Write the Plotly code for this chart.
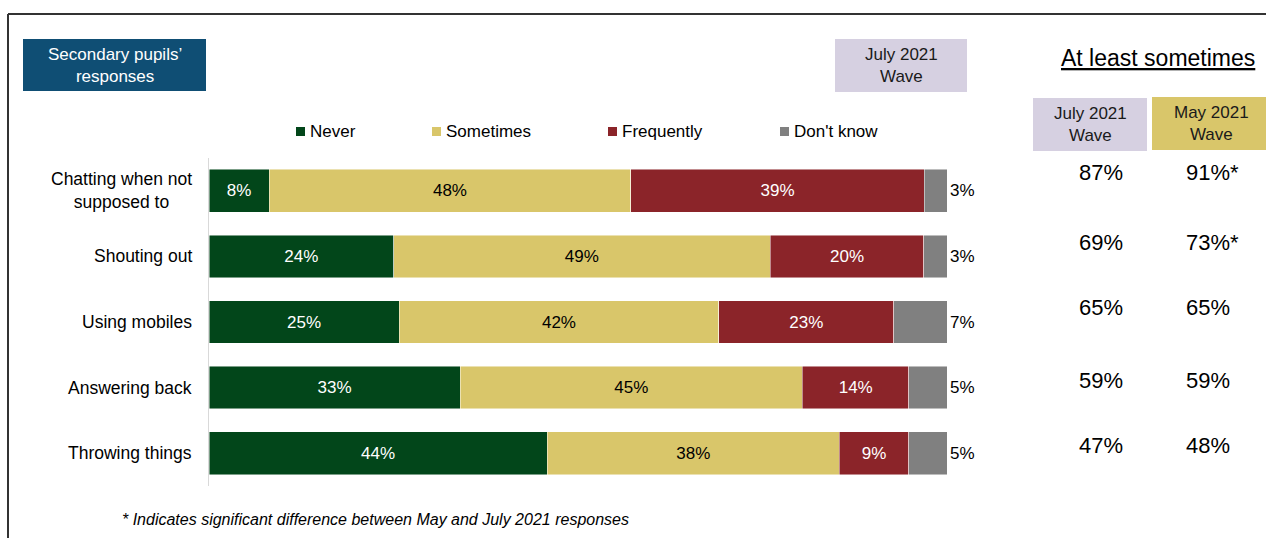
import plotly.graph_objects as go

# ---------------- data ----------------
categories = ["Chatting when not<br>supposed to", "Shouting out", "Using mobiles",
              "Answering back", "Throwing things"]
series_names = ["Never", "Sometimes", "Frequently", "Don't know"]
never = [8, 24, 25, 33, 44]
sometimes = [48, 49, 42, 45, 38]
frequently = [39, 20, 23, 14, 9]
dont_know = [3, 3, 7, 5, 5]
july_at_least = ["87%", "69%", "65%", "59%", "47%"]
may_at_least = ["91%*", "73%*", "65%", "59%", "48%"]

# ---------------- style ----------------
colors = ["#02461A", "#D9C66A", "#8B2429", "#808080"]
text_colors = ["white", "black", "white", "black"]
FONT = "Liberation Sans, Arial, sans-serif"
W, H = 1266, 538
ML, MR, MT, MB = 209, 319, 158, 52
PW, PH = W - ML - MR, H - MT - MB


def px2x(px):
    return (px - ML) / PW


def px2y(py):
    return (H - MB - py) / PH


fig = go.Figure()
all_vals = [never, sometimes, frequently, dont_know]
for i, (name, vals) in enumerate(zip(series_names, all_vals)):
    last = i == len(series_names) - 1
    fig.add_trace(go.Bar(
        y=categories, x=vals, name=name, orientation="h",
        marker=dict(color=colors[i], line=dict(color="rgba(255,255,255,0.6)", width=0.8)),
        text=[f"{v}%" for v in vals],
        textposition="outside" if last else "inside",
        insidetextanchor="middle",
        textangle=0,
        constraintext="none",
        textfont=dict(family=FONT, size=17, color=text_colors[i]),
        cliponaxis=False,
        showlegend=False,
        hoverinfo="skip",
    ))

fig.update_layout(
    width=W, height=H,
    margin=dict(l=ML, r=MR, t=MT, b=MB),
    paper_bgcolor="white", plot_bgcolor="white",
    barmode="stack", barnorm="percent", bargap=0.35,
    font=dict(family=FONT, size=17, color="black"),
    xaxis=dict(range=[0, 100], visible=False, fixedrange=True),
    yaxis=dict(autorange="reversed", showticklabels=False, showgrid=False,
               showline=True, linecolor="#D9D9D9", linewidth=1, ticks="",
               zeroline=False),
)

shapes = []
annotations = []

# category labels (centred multi-line, right edge near axis)
for cat in categories:
    annotations.append(dict(x=0, y=cat, xref="paper", yref="y", text=cat,
                            xanchor="right", yanchor="middle", xshift=-15,
                            align="center", showarrow=False,
                            font=dict(family=FONT, size=17.5, color="black")))

# legend (manual, squares + text)
legend_sq_px = [296, 432, 608, 780]
for name, col, sx in zip(series_names, colors, legend_sq_px):
    shapes.append(dict(type="rect", xref="paper", yref="paper",
                       x0=px2x(sx), x1=px2x(sx + 9), y0=px2y(136), y1=px2y(127),
                       fillcolor=col, line=dict(width=0)))
    annotations.append(dict(x=px2x(sx + 12), y=px2y(131), xref="paper", yref="paper",
                            text=name, xanchor="left", yanchor="middle", showarrow=False,
                            font=dict(family=FONT, size=17, color="black")))

# header boxes
def box(x0, x1, y0, y1, fill, text, color):
    shapes.append(dict(type="rect", xref="paper", yref="paper",
                       x0=px2x(x0), x1=px2x(x1), y0=px2y(y1), y1=px2y(y0),
                       fillcolor=fill, line=dict(width=0), layer="below"))
    annotations.append(dict(x=px2x((x0 + x1) / 2), y=px2y((y0 + y1) / 2),
                            xref="paper", yref="paper", text=text,
                            xanchor="center", yanchor="middle", showarrow=False,
                            align="center",
                            font=dict(family=FONT, size=17, color=color)))


box(23, 206, 39, 91, "#0F4E74", "Secondary pupils’<br>responses", "white")
box(835, 967, 39, 92, "#D6D0E1", "July 2021<br>Wave", "#1a1a1a")
box(1033, 1147, 98, 151, "#D6D0E1", "July 2021<br>Wave", "#1a1a1a")
box(1152, 1270, 97, 150, "#D9C66A", "May 2021<br>Wave", "#1a1a1a")

# "At least sometimes" heading
annotations.append(dict(x=px2x(1158), y=px2y(58), xref="paper", yref="paper",
                        text="<u>At least sometimes</u>", xanchor="center", yanchor="middle",
                        showarrow=False, font=dict(family=FONT, size=23, color="black")))

# table values
table_yshift = [18, 14, 15, 7, 8]
for cat, jv, mv, ys in zip(categories, july_at_least, may_at_least, table_yshift):
    annotations.append(dict(x=px2x(1077), y=cat, xref="paper", yref="y", text=jv,
                            xanchor="left", yanchor="middle", yshift=ys, showarrow=False,
                            font=dict(family=FONT, size=22, color="black")))
    annotations.append(dict(x=px2x(1184), y=cat, xref="paper", yref="y", text=mv,
                            xanchor="left", yanchor="middle", yshift=ys, showarrow=False,
                            font=dict(family=FONT, size=22, color="black")))

# footnote
annotations.append(dict(x=px2x(120), y=px2y(519), xref="paper", yref="paper",
                        text="<i>* Indicates significant difference between May and July 2021 responses</i>",
                        xanchor="left", yanchor="middle", showarrow=False,
                        font=dict(family=FONT, size=16, color="black")))

# slide frame
shapes.append(dict(type="line", xref="paper", yref="paper",
                   x0=px2x(8), x1=px2x(1270), y0=px2y(14), y1=px2y(14),
                   line=dict(color="#333333", width=2)))
shapes.append(dict(type="line", xref="paper", yref="paper",
                   x0=px2x(8), x1=px2x(8), y0=px2y(14), y1=px2y(540),
                   line=dict(color="#333333", width=2)))

fig.update_layout(shapes=shapes, annotations=annotations)
fig.write_html("out.html")
